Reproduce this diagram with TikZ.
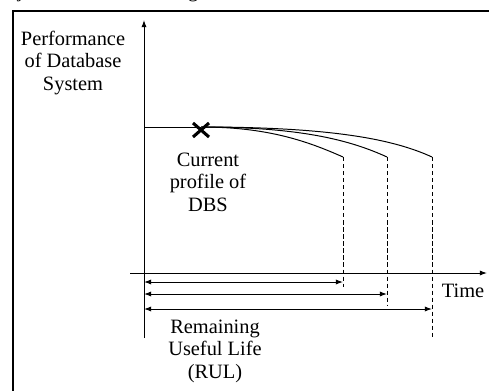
\documentclass[tikz,border=0pt]{standalone}
\usepackage{fontspec}
\setmainfont{Liberation Serif}
\usetikzlibrary{arrows.meta}

\begin{document}
\begin{tikzpicture}[
    x=0.025cm, y=-0.025cm,
    every node/.style={font=\fontsize{14.5}{16}\selectfont, inner sep=0pt, align=center},
    axis/.style={line width=0.7pt, -{Latex[length=1.8mm, width=1.3mm]}},
    traj/.style={line width=0.7pt},
    eol/.style={line width=0.6pt, dash pattern=on 3pt off 2pt},
    rul/.style={line width=0.7pt, {Latex[length=1.8mm, width=1.3mm]}-{Latex[length=1.8mm, width=1.3mm]}},
  ]
  \useasboundingbox (0,0) rectangle (489,390);
  \node[anchor=base east] (caption) at (245,-3) {trajectories shown in Figure 7.};
  \draw[line width=1.4pt] (13,420) |- (520,11);

  \coordinate (origin) at (144,273);
  \coordinate (ytop) at (144,20);
  \coordinate (ybot) at (144,338);
  \coordinate (xbeg) at (130,273);
  \coordinate (xend) at (487,273);
  \draw[axis] (ybot) -- (ytop);
  \draw[axis] (xbeg) -- (xend);

  \coordinate (start) at (144,127);
  \coordinate (now) at (201,127);
  \coordinate (end1) at (343,157);
  \coordinate (end2) at (387,157);
  \coordinate (end3) at (432,157);
  \coordinate (foot1) at (343,287);
  \coordinate (foot2) at (387,305);
  \coordinate (foot3) at (432,338);

  \draw[traj] (start) -- (now);
  \draw[traj] (now) .. controls (265,127) and (305,140) .. (end1);
  \draw[traj] (now) .. controls (300,127) and (350,140) .. (end2);
  \draw[traj] (now) .. controls (335,127) and (395,140) .. (end3);
  \draw[line width=2.2pt] (201,130) +(-8,-7) -- +(8,7) +(-8,7) -- +(8,-7);

  \draw[eol] (end1) -- (foot1);
  \draw[eol] (end2) -- (foot2);
  \draw[eol] (end3) -- (foot3);

  \coordinate (r1) at (144,282);
  \coordinate (r2) at (144,294);
  \coordinate (r3) at (144,309);
  \draw[rul] (r1) -- (r1 -| end1);
  \draw[rul] (r2) -- (r2 -| end2);
  \draw[rul] (r3) -- (r3 -| end3);

  \node (perf) at (73,63) {Performance\\of Database\\System};
  \node (profile) at (208,182) {Current\\profile of\\DBS};
  \node (time) at (463,291) {Time};
  \node (rullabel) at (215,351) {Remaining\\Useful Life\\(RUL)};
\end{tikzpicture}
\end{document}
